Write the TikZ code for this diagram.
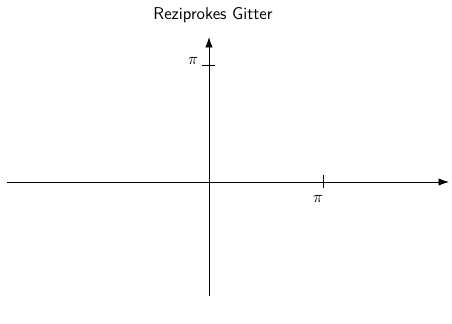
\documentclass[tikz,border=0pt]{standalone}
\usepackage{amsmath}
\usepackage{amssymb}
\usetikzlibrary{arrows.meta}

\begin{document}
\begin{tikzpicture}[x=0.6667pt,y=-0.6667pt,font=\sffamily\fontsize{11.4pt}{14pt}\selectfont]
\tikzstyle{every node}+=[inner sep=0pt]
\tikzstyle{axis}=[black, line width=0.6pt, -{Latex[length=7pt,width=5pt]}]
\tikzstyle{tick}=[black, line width=0.5pt]
\useasboundingbox (0,0) rectangle (452,324);
\coordinate (xl) at (7,182);
\coordinate (xr) at (449,182);
\coordinate (yb) at (209,296);
\coordinate (yt) at (209,37);
\draw [axis] (xl) -- (xr);
\draw [axis] (yb) -- (yt);
\coordinate (xt1) at (323,175);
\coordinate (xt2) at (323,188);
\draw [tick] (xt1) -- (xt2);
\draw (318,199) node (xpi) {$\pi$};
\coordinate (yt1) at (202,65);
\coordinate (yt2) at (215,65);
\draw [tick] (yt1) -- (yt2);
\draw (193,61) node (ypi) {$\pi$};
\draw (213,15) node (title) {Reziprokes Gitter};
\end{tikzpicture}
\end{document}
